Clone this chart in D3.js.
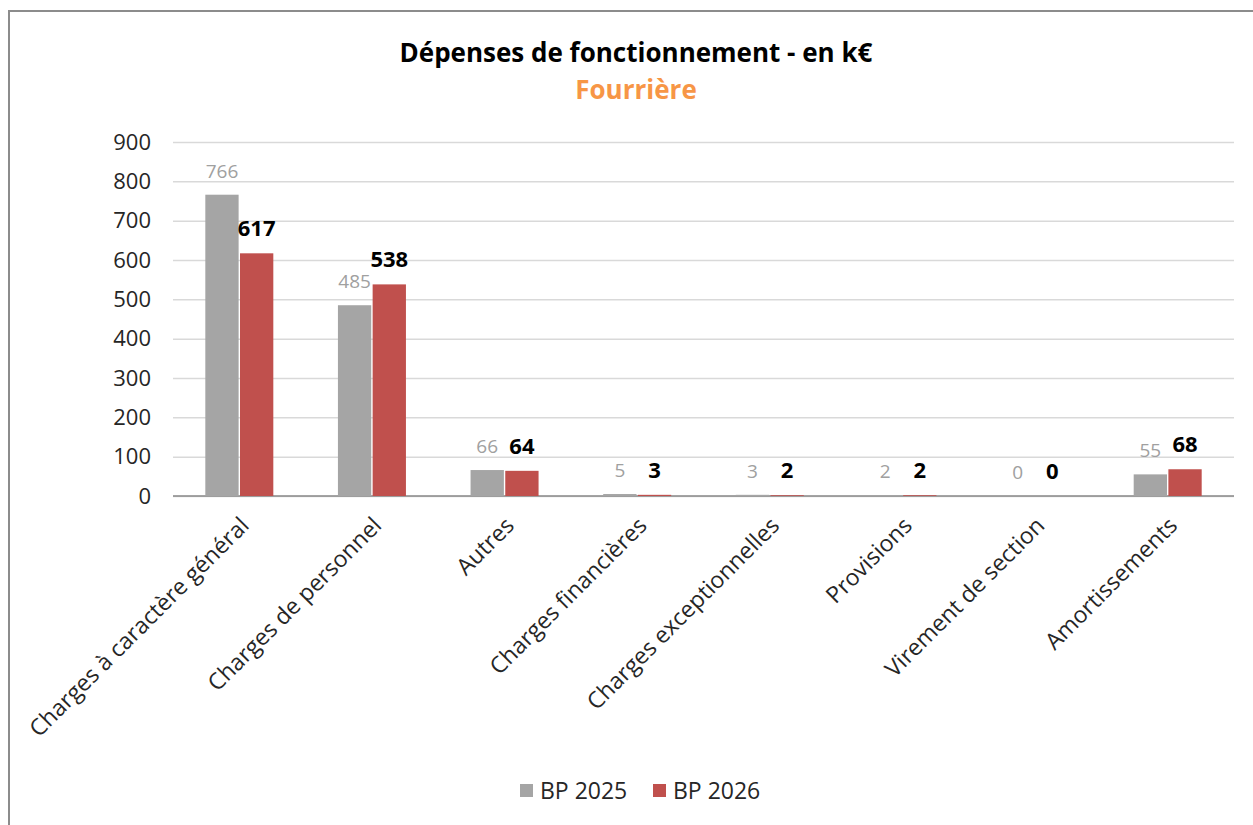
<!DOCTYPE html>
<html>
  <head>
    <meta charset="utf-8">
    <script src="https://d3js.org/d3.v7.min.js"></script>
    <title>Dépenses de fonctionnement - Fourrière</title>
    <style>
      body {
        margin: 0px;
        background: #fff;
        overflow: hidden;
      }
      svg {
        display: block;
      }
      svg text {
        font-family: 'Open Sans', sans-serif;
      }
      .domain {
        display: none;
      }
      .y-axis .tick line {
        stroke: #D9D9D9;
        stroke-width: 1.5;
      }
      .y-axis .tick text {
        fill: #262626;
        font-size: 22px;
      }
      .x-axis .tick text {
        fill: #262626;
        font-size: 23px;
      }
    </style>
  </head>
  <body>
    <svg width="1253" height="825"></svg>
    <script>

      const categories = [
        'Charges à caractère général',
        'Charges de personnel',
        'Autres',
        'Charges financières',
        'Charges exceptionnelles',
        'Provisions',
        'Virement de section',
        'Amortissements'
      ];
      const bp2025 = [766, 485, 66, 5, 3, 2, 0, 55];
      const bp2026 = [617, 538, 64, 3, 2, 2, 0, 68];
      const seriesNames = ['BP 2025', 'BP 2026'];
      const yTickValues = [0, 100, 200, 300, 400, 500, 600, 700, 800, 900];

      const colors = ['#A5A5A5', '#C0504D'];
      const margin = { left: 173, right: 19, top: 142, bottom: 329 };

      const svg = d3.select('svg');
      const width = +svg.attr('width');
      const height = +svg.attr('height');
      const innerWidth = width - margin.left - margin.right;
      const innerHeight = height - margin.top - margin.bottom;

      // chart frame: only left and top edges show, the rest is cropped
      svg.append('path')
          .attr('d', `M9,${height} V11 H${width}`)
          .attr('fill', 'none')
          .attr('stroke', '#8C8C8C')
          .attr('stroke-width', 2);

      svg.append('text')
          .attr('x', 636)
          .attr('y', 62)
          .attr('text-anchor', 'middle')
          .style('font-size', '26px')
          .style('font-weight', 'bold')
          .attr('fill', '#000')
          .text('Dépenses de fonctionnement - en k€');

      svg.append('text')
          .attr('x', 636)
          .attr('y', 99)
          .attr('text-anchor', 'middle')
          .style('font-size', '26px')
          .style('font-weight', 'bold')
          .attr('fill', '#F79646')
          .text('Fourrière');

      const g = svg.append('g')
          .attr('transform', `translate(${margin.left},${margin.top})`);

      const xScale = d3.scaleBand()
        .domain(categories)
        .range([0, innerWidth]);

      const xSub = d3.scaleBand()
        .domain(seriesNames)
        .range([xScale.bandwidth() / 2 - 34, xScale.bandwidth() / 2 + 34])
        .paddingInner(0.04);

      const yScale = d3.scaleLinear()
        .domain([0, 900])
        .range([innerHeight, 0]);

      const yAxis = d3.axisLeft(yScale)
        .tickValues(yTickValues)
        .tickSize(-innerWidth)
        .tickPadding(22);

      g.append('g')
          .attr('class', 'y-axis')
          .call(yAxis);

      const xAxis = d3.axisBottom(xScale)
        .tickSize(0)
        .tickPadding(0);

      const xAxisG = g.append('g')
          .attr('class', 'x-axis')
          .attr('transform', `translate(0,${innerHeight})`)
          .call(xAxis);

      xAxisG.selectAll('.tick text')
          .attr('text-anchor', 'end')
          .attr('dy', 0)
          .attr('transform', 'translate(11,31) rotate(-45)');

      g.append('line')
          .attr('x1', 0)
          .attr('x2', innerWidth)
          .attr('y1', innerHeight)
          .attr('y2', innerHeight)
          .attr('stroke', '#898989')
          .attr('stroke-width', 1.5);

      const rows = categories.map((c, i) => ({
        category: c,
        values: [
          { series: seriesNames[0], value: bp2025[i], idx: 0 },
          { series: seriesNames[1], value: bp2026[i], idx: 1 }
        ]
      }));

      const groups = g.selectAll('.cat').data(rows)
        .enter().append('g')
          .attr('class', 'cat')
          .attr('transform', d => `translate(${xScale(d.category)},0)`);

      groups.selectAll('rect').data(d => d.values)
        .enter().append('rect')
          .attr('x', d => xSub(d.series))
          .attr('width', xSub.bandwidth())
          .attr('y', d => yScale(d.value))
          .attr('height', d => innerHeight - yScale(d.value))
          .attr('fill', d => colors[d.idx]);

      groups.selectAll('.label').data(d => d.values)
        .enter().append('text')
          .attr('class', 'label')
          .attr('x', d => xSub(d.series) + xSub.bandwidth() / 2)
          .attr('y', d => yScale(d.value) - 17)
          .attr('text-anchor', 'middle')
          .style('font-size', d => d.idx === 0 ? '19px' : '22px')
          .style('font-weight', d => d.idx === 0 ? 'normal' : 'bold')
          .attr('fill', d => d.idx === 0 ? '#A0A0A0' : '#000')
          .text(d => d.value);

      // legend
      const legend = svg.append('g')
          .attr('transform', 'translate(520,791)');
      const legendX = [0, 133];
      seriesNames.forEach((name, i) => {
        legend.append('rect')
            .attr('x', legendX[i])
            .attr('y', -7)
            .attr('width', 13)
            .attr('height', 13)
            .attr('fill', colors[i]);
        legend.append('text')
            .attr('x', legendX[i] + 20)
            .attr('y', 8)
            .style('font-size', '23px')
            .attr('fill', '#262626')
            .text(name);
      });
    </script>
  </body>
</html>
